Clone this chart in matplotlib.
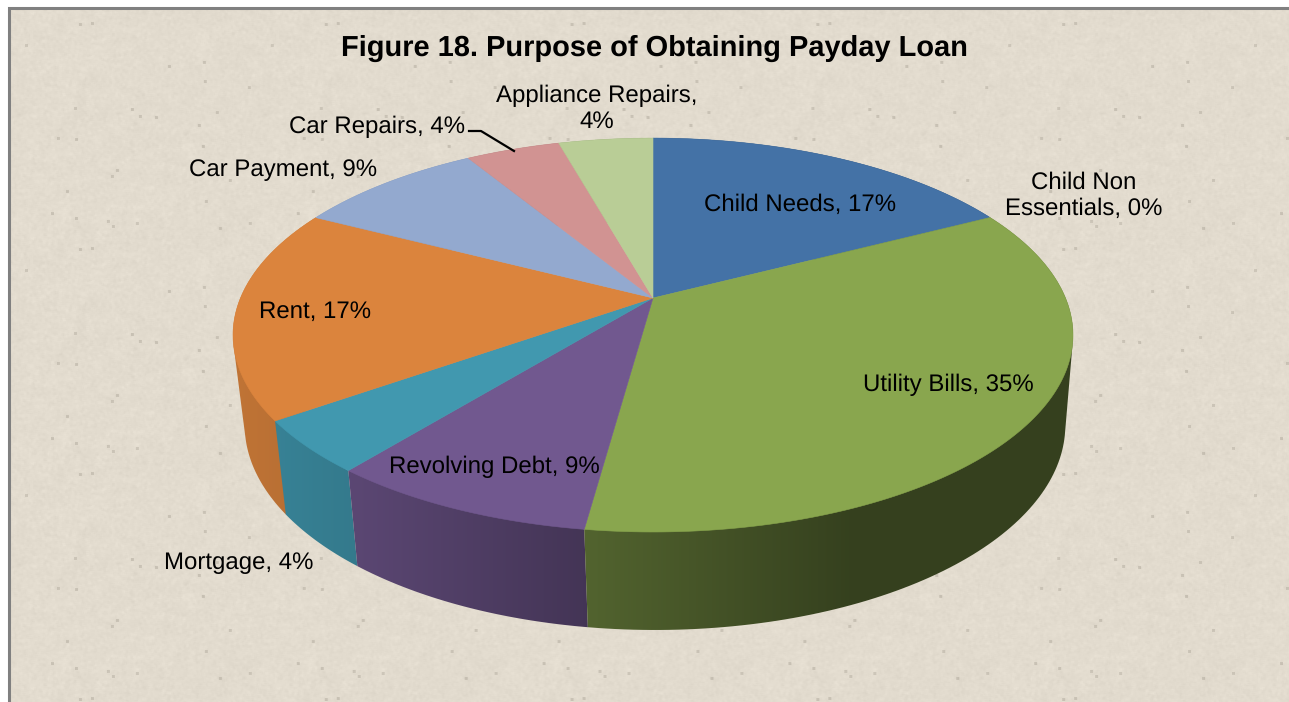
import numpy as np
import matplotlib
matplotlib.use("Agg")
import matplotlib.pyplot as plt
from matplotlib.patches import Polygon

plt.rcParams['font.family'] = ['Liberation Sans', 'DejaVu Sans']
plt.rcParams['text.hinting'] = 'no_hinting'
plt.rcParams['text.hinting_factor'] = 1

title = "Figure 18. Purpose of Obtaining Payday Loan"
# slices, clockwise from 12 o'clock
categories = ["Child Needs", "Child Non\nEssentials", "Utility Bills", "Revolving Debt", "Mortgage",
              "Rent", "Car Payment", "Car Repairs", "Appliance\nRepairs"]
shares = [17.39, 0.0, 34.78, 8.70, 4.35, 17.39, 8.70, 4.35, 4.35]
colors = ["#4472A6", "#A64644", "#89A64E", "#71588F", "#4198AF", "#DB843D", "#93A9CF", "#D19392", "#B9CD96"]

# label centres in pixels
label_x = [800, 1084, 948, 494, 239, 315, 283, 377, 597]
label_y = [205, 196, 385, 467, 563, 312, 170, 127, 109]
label_text = ["Child Needs, 17%", "Child Non\nEssentials, 0%", "Utility Bills, 35%", "Revolving Debt, 9%",
              "Mortgage, 4%", "Rent, 17%", "Car Payment, 9%", "Car Repairs, 4%", "Appliance Repairs,\n4%"]

# top and bottom discs drawn in perspective, k pulls the near side outwards
k = 0.188
top_cx, top_y, top_a, top_b = 653, 298, 412.5, 190
bot_cx, bot_y, bot_a, bot_b = 655, 386.5, 403, 197.7
# darkening of the side wall going left to right
shade_x = [230, 358, 585, 850, 1080]
shade_f = [0.88, 0.80, 0.60, 0.39, 0.39]


def disc(theta, xc, yc, a, b):
    u, v = np.sin(theta), np.cos(theta)
    w = 1 + k * v
    return xc + a * u / w, yc - b * v / w


def hull(pts):
    # monotone chain, the wall of a slice is the hull of its two arcs
    pts = sorted(set(map(tuple, pts)))
    def half(seq):
        out = []
        for p in seq:
            while len(out) > 1 and ((out[-1][0] - out[-2][0]) * (p[1] - out[-2][1])
                                    - (out[-1][1] - out[-2][1]) * (p[0] - out[-2][0])) <= 0:
                out.pop()
            out.append(p)
        return out[:-1]
    return np.array(half(pts) + half(pts[::-1]))


fig = plt.figure(figsize=(12.89, 7.02), dpi=100, facecolor="white")
ax = fig.add_axes([0, 0, 1, 1])


def blur(a, n=1):
    return sum(np.roll(np.roll(a, i, 0), j, 1) for i in range(-n, n + 1) for j in range(-n, n + 1)) / (2 * n + 1) ** 2


# paper texture, only decoration
rng = np.random.default_rng(18)
noise = rng.normal(0, 1, (225, 246))
specks = rng.random((225, 246)) > 0.9996
tile = 226 + 5 * blur(noise, 1) + 10 * blur(rng.normal(0, 1, (225, 246)), 6) - 220 * blur(specks.astype(float), 1)
grain = np.tile(tile, (4, 6))[:694, :1281]
paper = np.clip(np.dstack([grain + 1, grain - 6, grain - 19]), 0, 255).astype(np.uint8)
ax.imshow(paper, extent=(9, 1289, 702, 8), aspect="auto", interpolation="bilinear", zorder=0)
ax.plot([9, 9, 1289], [702, 8, 8], color="#808080", lw=2.2, zorder=1, solid_joinstyle="miter")

edges = np.cumsum([0] + shares) / sum(shares) * 2 * np.pi

# side walls, back slices first so neighbours cover the hull overlap
xs = np.arange(230, 1081)
shade = np.interp(xs, shade_x, shade_f)
for i in reversed(range(len(shares))):
    if shares[i] == 0:
        continue
    t = np.linspace(edges[i], edges[i + 1], 120)
    x1, y1 = disc(t, top_cx, top_y, top_a, top_b)
    x2, y2 = disc(t, bot_cx, bot_y, bot_a, bot_b)
    wall = Polygon(hull(np.column_stack([np.r_[x1, x2], np.r_[y1, y2]])), transform=ax.transData,
                   facecolor="none", edgecolor="none")
    ax.add_patch(wall)
    rgb = np.array(matplotlib.colors.to_rgb(colors[i]))
    img = (shade[:, None] * rgb)[None, :, :]
    im = ax.imshow(img, extent=(230, 1081, 640, 100), aspect="auto", zorder=2)
    im.set_clip_path(wall)

# top faces
for i in range(len(shares)):
    if shares[i] == 0:
        continue
    t = np.linspace(edges[i], edges[i + 1], 200)
    x1, y1 = disc(t, top_cx, top_y, top_a, top_b)
    ax.fill(np.r_[top_cx, x1], np.r_[top_y, y1], color=colors[i], lw=0.4, zorder=3)

# leader line of Car Repairs
ax.plot([469, 481, 514], [131, 131, 151], color="black", lw=1.6, zorder=4)

for i in range(len(categories)):
    ax.text(label_x[i], label_y[i], label_text[i], ha="center", va="center", fontsize=17.2,
            color="black", linespacing=1.22, zorder=5)
ax.text(654, 48, title, ha="center", va="center", fontsize=21.2, fontweight="bold", color="black", zorder=5)

ax.set_xlim(0, 1289)
ax.set_ylim(702, 0)
ax.axis("off")
plt.savefig("out.png", dpi=100)
